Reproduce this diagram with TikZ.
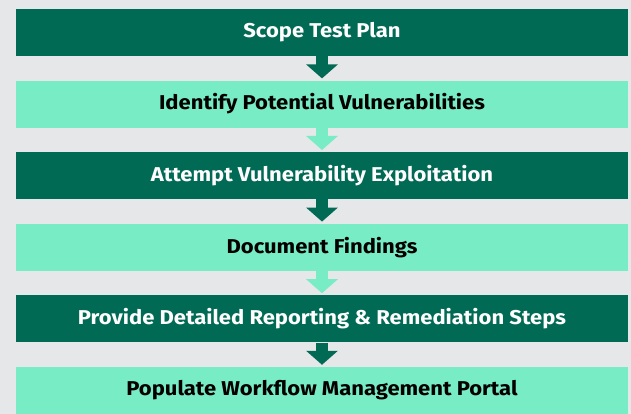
\documentclass[tikz,border=0pt]{standalone}
\usepackage{fontspec}
\usepackage{tikz}
\usetikzlibrary{arrows.meta,positioning}
\newfontfamily\barfont{Fira Sans}[FakeStretch=1.1]
\definecolor{darkgreen}{RGB}{0,106,85}
\definecolor{lightgreen}{RGB}{120,236,196}
\definecolor{bggray}{RGB}{230,231,232}

\begin{document}
\begin{tikzpicture}[node distance=71.6pt,
  bar/.style={rectangle,minimum width=612pt,minimum height=47pt,inner sep=0pt,
    font=\barfont\bfseries\fontsize{20}{22}\selectfont},
  darkbar/.style={bar,fill=darkgreen,text=white},
  lightbar/.style={bar,fill=lightgreen,text=black},
  darkflow/.style={line width=12pt,draw=darkgreen,shorten >=2pt,
    -{Triangle[length=14pt,width=31pt]}},
  lightflow/.style={darkflow,draw=lightgreen}]
  \fill[bggray] (0,0) rectangle (631pt,414pt);
  \node[darkbar]  (scope)    at (322pt,381.5pt) {Scope Test Plan};
  \node[lightbar] (identify) [below of=scope]    {Identify Potential Vulnerabilities};
  \node[darkbar]  (exploit)  [below of=identify] {Attempt Vulnerability Exploitation};
  \node[lightbar] (document) [below of=exploit]  {Document Findings};
  \node[darkbar]  (report)   [below of=document] {Provide Detailed Reporting \& Remediation Steps};
  \node[lightbar] (portal)   [below of=report]   {Populate Workflow Management Portal};

  \path (scope)    edge[darkflow]  (identify)
        (identify) edge[lightflow] (exploit)
        (exploit)  edge[darkflow]  (document)
        (document) edge[lightflow] (report)
        (report)   edge[darkflow]  (portal);
\end{tikzpicture}
\end{document}
